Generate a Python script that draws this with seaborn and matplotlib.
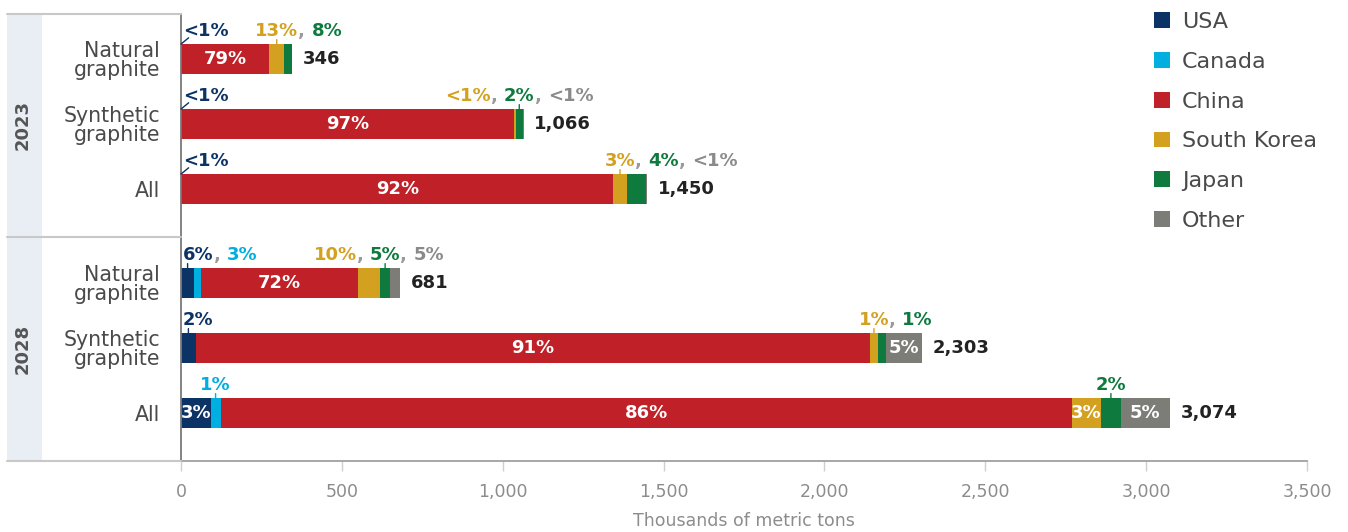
import matplotlib
matplotlib.use("Agg")
import matplotlib.pyplot as plt
import numpy as np
import pandas as pd
import seaborn as sns
from matplotlib.patches import Patch, Rectangle
from matplotlib.lines import Line2D

# ---- data (thousands of metric tons) ----
years = ["2023", "2028"]
materials = ["Natural\ngraphite", "Synthetic\ngraphite", "All"]
countries = ["USA", "Canada", "China", "South Korea", "Japan", "Other"]

usa_2023 = [2, 2, 2]
canada_2023 = [0, 0, 0]
china_2023 = [273, 1034, 1340]
korea_2023 = [45, 5, 45]
japan_2023 = [26, 21, 58]
other_2023 = [0, 4, 5]

usa_2028 = [41, 46, 92]
canada_2028 = [20, 0, 31]
china_2028 = [490, 2096, 2645]
korea_2028 = [68, 24, 92]
japan_2028 = [31, 24, 61]
other_2028 = [31, 113, 153]

tick_values = [0, 500, 1000, 1500, 2000, 2500, 3000, 3500]
tick_labels = ["0", "500", "1,000", "1,500", "2,000", "2,500", "3,000", "3,500"]

series = {
    "2023": [usa_2023, canada_2023, china_2023, korea_2023, japan_2023, other_2023],
    "2028": [usa_2028, canada_2028, china_2028, korea_2028, japan_2028, other_2028],
}

# ---- styling ----
bar_colors = {"USA": "#0b3366", "Canada": "#00aee0", "China": "#c02027",
              "South Korea": "#d4a01f", "Japan": "#0e7a3e", "Other": "#7d7d78"}
text_colors = dict(bar_colors, Other="#8a8a8a")
sep_color = "#9a9a9a"

# labels drawn inside segments
inside = {
    ("2023", 0): ["China"], ("2023", 1): ["China"], ("2023", 2): ["China"],
    ("2028", 0): ["China"], ("2028", 1): ["China", "Other"],
    ("2028", 2): ["USA", "China", "South Korea", "Other"],
}
# call-outs above the bars: (year, row, countries, anchor, alignment, leader)
callouts = [
    ("2023", 0, ["USA"], "USA", "left", "diag"),
    ("2023", 0, ["South Korea", "Japan"], "South Korea", "center", "tick"),
    ("2023", 1, ["USA"], "USA", "left", "diag"),
    ("2023", 1, ["South Korea", "Japan", "Other"], "Japan", "center", "tick"),
    ("2023", 2, ["USA"], "USA", "left", "diag"),
    ("2023", 2, ["South Korea", "Japan", "Other"], "South Korea", "center", "tick"),
    ("2028", 0, ["USA", "Canada"], "USA", "left", "tick"),
    ("2028", 0, ["South Korea", "Japan", "Other"], "Japan", "center", "tick"),
    ("2028", 1, ["USA"], "USA", "left", "tick"),
    ("2028", 1, ["South Korea", "Japan"], "South Korea", "center", "tick"),
    ("2028", 2, ["Canada"], "Canada", "center", "tick"),
    ("2028", 2, ["Japan"], "Japan", "center", "tick"),
]

sns.set_style("white")
plt.rcParams["font.family"] = ["DejaVu Sans"]

W, H = 1348, 532
fig = plt.figure(figsize=(W / 100, H / 100), dpi=100)


def fx(px):
    return px / W


def fy(py):
    return 1 - py / H


ax_left, ax_right = fx(181), fx(1307)
ax_top = fig.add_axes([ax_left, fy(237), ax_right - ax_left, (237 - 14) / H])
ax_bot = fig.add_axes([ax_left, fy(461), ax_right - ax_left, (461 - 237) / H],
                      sharex=ax_top)
year_axes = {"2023": ax_top, "2028": ax_bot}

BAR_W = 0.46
LBL_FS = 13


def pct_label(v, total):
    share = v / total * 100
    return "<1%" if share < 1 else f"{round(share)}%"


for year, ax in year_axes.items():
    df = pd.DataFrame(dict(zip(countries, series[year])))
    df.insert(0, "material", materials)
    cum = df[countries].cumsum(axis=1)
    cum["material"] = materials
    totals = df[countries].sum(axis=1).values

    # stacked bars: draw cumulative totals from the outermost segment inwards
    for c in reversed(countries):
        sns.barplot(data=cum, x=c, y="material", orient="h", color=bar_colors[c],
                    saturation=1, width=BAR_W, errorbar=None, linewidth=0, ax=ax)

    starts = cum[countries].values - df[countries].values
    vals = df[countries].values

    # total labels
    for i, t in enumerate(totals):
        ax.annotate(f"{t:,}", xy=(t, i), xytext=(7.5, 0), textcoords="offset points",
                    ha="left", va="center", fontsize=LBL_FS, fontweight="bold",
                    color="#222222")

    # labels inside segments
    for i in range(len(materials)):
        for c in inside.get((year, i), []):
            j = countries.index(c)
            ax.text(starts[i, j] + vals[i, j] / 2, i, pct_label(vals[i, j], totals[i]),
                    ha="center", va="center", color="white", fontsize=LBL_FS,
                    fontweight="bold")

    # call-outs above bars
    for yr, i, group, anchor, align, leader in callouts:
        if yr != year:
            continue
        top = i - BAR_W / 2
        aj = countries.index(anchor)
        mid = starts[i, aj] + vals[i, aj] / 2
        col = text_colors[anchor]
        if leader == "diag":
            ax.annotate("", xy=(starts[i, aj], top), xytext=(5.5, 4.5),
                        textcoords="offset points",
                        arrowprops=dict(arrowstyle="-", color=col, lw=1,
                                        shrinkA=0, shrinkB=0))
        else:
            ax.annotate("", xy=(mid, top), xytext=(0, 3.2), textcoords="offset points",
                        arrowprops=dict(arrowstyle="-", color=col, lw=1,
                                        shrinkA=0, shrinkB=0))
        kw = dict(fontsize=LBL_FS, fontweight="bold", va="bottom")
        if align == "left":
            anchor_txt = ax.annotate(pct_label(vals[i, aj], totals[i]),
                                     xy=(starts[i, aj], top), xytext=(1.5, 2.6),
                                     textcoords="offset points", ha="left",
                                     color=col, **kw)
        else:
            anchor_txt = ax.annotate(pct_label(vals[i, aj], totals[i]),
                                     xy=(mid, top), xytext=(0, 2.6),
                                     textcoords="offset points", ha="center",
                                     color=col, **kw)
        k = group.index(anchor)
        prev = anchor_txt
        for c in group[k + 1:]:
            j = countries.index(c)
            s = ax.annotate(", ", xy=(1, 0), xycoords=prev, ha="left",
                            color=sep_color, **kw)
            prev = ax.annotate(pct_label(vals[i, j], totals[i]), xy=(1, 0),
                               xycoords=s, ha="left", color=text_colors[c], **kw)
        nxt = anchor_txt
        for c in reversed(group[:k]):
            j = countries.index(c)
            s = ax.annotate(", ", xy=(0, 0), xycoords=nxt, ha="right",
                            color=sep_color, **kw)
            nxt = ax.annotate(pct_label(vals[i, j], totals[i]), xy=(0, 0),
                              xycoords=s, ha="right", color=text_colors[c], **kw)

    ax.set_ylim(2 + 48 / 65, -(45 if year == "2023" else 46) / 65)
    ax.set_xlim(0, 3500)
    ax.set_ylabel("")
    ax.set_xlabel("")
    ax.tick_params(axis="y", length=0, pad=15, labelsize=14.8, labelcolor="#4a4a4a")
    for lab in ax.get_yticklabels():
        lab.set_linespacing(0.95)
    for side in ("top", "right"):
        ax.spines[side].set_visible(False)
    ax.spines["left"].set_color("#7a7a7a")
    ax.spines["left"].set_linewidth(1.3)

# x axis only on the lower panel
ax_top.spines["bottom"].set_visible(False)
ax_top.tick_params(axis="x", bottom=False, labelbottom=False)
ax_bot.spines["bottom"].set_color("#a0a0a0")
ax_bot.spines["bottom"].set_linewidth(1.3)
ax_bot.set_xticks(tick_values, tick_labels)
ax_bot.tick_params(axis="x", bottom=True, direction="out", length=7.5, width=1,
                   color="#cfcfcf", pad=8, labelsize=12.5, labelcolor="#8c8c8c")
ax_bot.set_xlabel("Thousands of metric tons", fontsize=12.5, color="#8c8c8c",
                  labelpad=8)

# year band and separators on the left
fig.add_artist(Rectangle((fx(7), fy(461)), fx(42) - fx(7), fy(14) - fy(461),
                         transform=fig.transFigure, facecolor="#e9eef5",
                         edgecolor="none", zorder=0))
for py in (14, 237, 461):
    fig.add_artist(Line2D([fx(7), fx(181)], [fy(py), fy(py)], transform=fig.transFigure,
                          color="#c8c8c8", lw=1.5))
for year, (y0, y1) in zip(years, [(14, 237), (237, 461)]):
    fig.text(fx(23), fy((y0 + y1) / 2), year, rotation=90, ha="center", va="center",
             fontsize=13, fontweight="bold", color="#555555")

# legend
handles = [Patch(facecolor=bar_colors[c], edgecolor="none", label=c) for c in countries]
fig.legend(handles=handles, loc="upper left", bbox_to_anchor=(fx(1154), fy(12)),
           frameon=False, fontsize=16, labelcolor="#4a4a4a", handlelength=0.72,
           handleheight=0.72, handletextpad=0.55, labelspacing=0.89, borderpad=0,
           borderaxespad=0)

fig.savefig("out.png", dpi=100)
